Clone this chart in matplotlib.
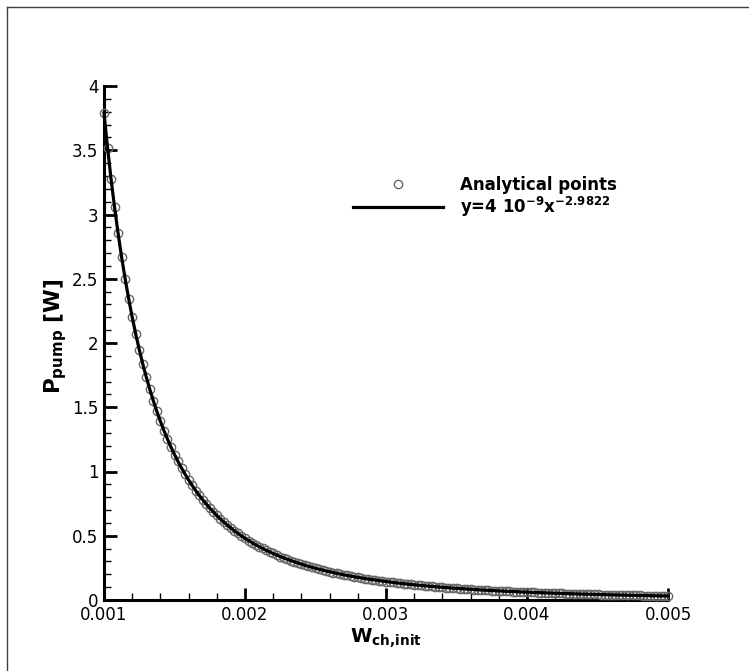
import matplotlib
matplotlib.use('Agg')
import matplotlib.pyplot as plt
from matplotlib.lines import Line2D
import numpy as np

plt.rcParams['font.family'] = ['DejaVu Sans']
plt.rcParams['mathtext.fontset'] = 'dejavusans'

# W_ch,init (m): de 0.001 a 0.005, passo 0.000025
w_start = 0.001
w_step = 0.000025

# pontos analiticos (W)
p_pump = [
    3.790, 3.521, 3.277, 3.055, 2.853, 2.668, 2.499, 2.344, 2.201, 2.070,
    1.949, 1.837, 1.734, 1.639, 1.550, 1.467, 1.391, 1.319, 1.253, 1.190,
    1.132, 1.078, 1.027, 0.979, 0.934, 0.892, 0.852, 0.815, 0.780, 0.747,
    0.715, 0.686, 0.658, 0.631, 0.606, 0.582, 0.560, 0.538, 0.518, 0.499,
    0.480, 0.463, 0.446, 0.430, 0.415, 0.401, 0.387, 0.374, 0.362, 0.350,
    0.338, 0.327, 0.317, 0.307, 0.297, 0.288, 0.279, 0.270, 0.262, 0.255,
    0.247, 0.240, 0.233, 0.226, 0.220, 0.214, 0.208, 0.202, 0.196, 0.191,
    0.186, 0.181, 0.176, 0.172, 0.167, 0.163, 0.159, 0.155, 0.151, 0.147,
    0.1435, 0.140, 0.1366, 0.1333, 0.1301, 0.1270, 0.1240, 0.1212, 0.1184, 0.1157,
    0.1131, 0.1105, 0.1080, 0.1056, 0.1033, 0.1010, 0.0988, 0.0967, 0.0946, 0.0926,
    0.0907, 0.0888, 0.0869, 0.0851, 0.0833, 0.0816, 0.0800, 0.0784, 0.0768, 0.0753,
    0.0738, 0.0723, 0.0709, 0.0695, 0.0682, 0.0669, 0.0656, 0.0644, 0.0632, 0.0620,
    0.0609, 0.0597, 0.0586, 0.0576, 0.0565, 0.0555, 0.0545, 0.0536, 0.0526, 0.0517,
    0.0508, 0.0499, 0.0491, 0.0482, 0.0474, 0.0466, 0.0458, 0.0451, 0.0443, 0.0436,
    0.0429, 0.0422, 0.0415, 0.0408, 0.0402, 0.0395, 0.0389, 0.0383, 0.0377, 0.0371,
    0.0365, 0.0360, 0.0354, 0.0349, 0.0343, 0.0338, 0.0333, 0.0328, 0.0323, 0.0318,
    0.0313,
]
w_ch = w_start + w_step * np.arange(len(p_pump))

x_ticks = [0.001, 0.002, 0.003, 0.004, 0.005]
x_labels = ['0.001', '0.002', '0.003', '0.004', '0.005']
y_ticks = [0, 0.5, 1, 1.5, 2, 2.5, 3, 3.5, 4]
y_labels = ['0', '0.5', '1', '1.5', '2', '2.5', '3', '3.5', '4']

fig = plt.figure(figsize=(7.49, 6.71), dpi=100)
ax = fig.add_axes([104/749, 1 - 600/671, 564/749, 514/671])

ax.plot(w_ch, p_pump, 'o', markersize=6, markerfacecolor='none',
        markeredgecolor='#686868', markeredgewidth=1.0, clip_on=False,
        label='Analytical points', zorder=3)
ax.plot(w_ch, p_pump, '-', color='black', linewidth=2.3, clip_on=False,
        label=r'y=4 10$^{\mathbf{-9}}$x$^{\mathbf{-2.9822}}$', zorder=4)

ax.set_xlim(0.001, 0.005)
ax.set_ylim(0, 4)
ax.set_xticks(x_ticks)
ax.set_xticklabels(x_labels)
ax.set_yticks(y_ticks)
ax.set_yticklabels(y_labels)
ax.set_xticks(np.arange(0.0012, 0.005, 0.0002), minor=True)
ax.set_yticks(np.arange(0.1, 4, 0.1), minor=True)

for s in ['top', 'right']:
    ax.spines[s].set_visible(False)
for s in ['left', 'bottom']:
    ax.spines[s].set_linewidth(2.2)

ax.tick_params(which='major', direction='in', length=9, width=2, labelsize=12, pad=4)
ax.tick_params(which='minor', direction='in', length=5, width=1)

ax.set_xlabel(r'$\mathbf{W_{ch{,}init}}$', fontsize=14, labelpad=2)
ax.set_ylabel(r'$\mathbf{P_{pump}}$ [W]', fontsize=15.5, fontweight='bold')
ax.yaxis.set_label_coords(-0.062, 0.514)

leg = ax.legend(loc='upper left', bbox_to_anchor=(338/749, 1 - 161/671),
                bbox_transform=fig.transFigure, frameon=False,
                handlelength=5.4, labelspacing=0.05, handletextpad=1.0,
                prop={'size': 12, 'weight': 'bold'})

# moldura da figura (so esquerda e topo)
fig.add_artist(Line2D([7/749, 7/749], [0, 1 - 7/671], transform=fig.transFigure,
                      color='#404040', linewidth=1))
fig.add_artist(Line2D([7/749, 1], [1 - 7/671, 1 - 7/671], transform=fig.transFigure,
                      color='#404040', linewidth=1))

fig.savefig('out.png', dpi=100)
